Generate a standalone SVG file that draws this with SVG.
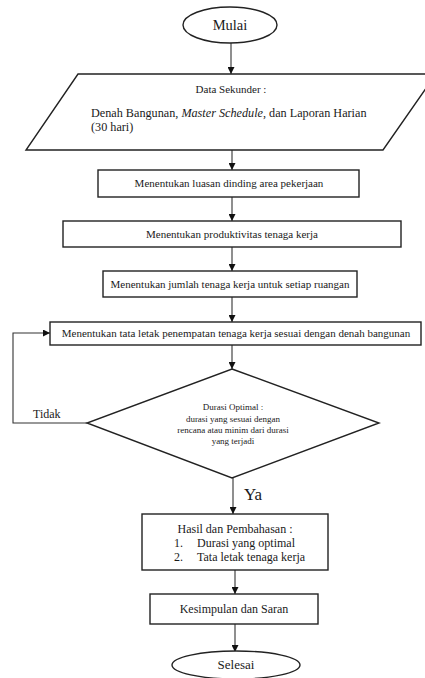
<svg xmlns="http://www.w3.org/2000/svg" width="425" height="678" viewBox="0 0 425 678">
<defs>
<style>
.s{fill:#fff;stroke:#222;stroke-width:1.4}
.c{fill:none;stroke:#333;stroke-width:1.1}
text{font-family:"Liberation Serif","Times New Roman",serif;fill:#1a1a1a}
.m{text-anchor:middle}
</style>
<marker id="a" viewBox="0 0 10 10" refX="10" refY="5" markerWidth="7" markerHeight="7" orient="auto" markerUnits="userSpaceOnUse"><path d="M0,0L10,5L0,10z" fill="#111"/></marker>
</defs>
<rect width="425" height="678" fill="#fff"/>
<g id="connectors">
<line class="c" x1="231" y1="43" x2="231" y2="74" marker-end="url(#a)"/>
<line class="c" x1="232" y1="150" x2="232" y2="170" marker-end="url(#a)"/>
<line class="c" x1="232" y1="197" x2="232" y2="221" marker-end="url(#a)"/>
<line class="c" x1="232" y1="247" x2="232" y2="271" marker-end="url(#a)"/>
<line class="c" x1="232" y1="297" x2="232" y2="322" marker-end="url(#a)"/>
<line class="c" x1="232" y1="345" x2="232" y2="369" marker-end="url(#a)"/>
<line class="c" x1="233" y1="478" x2="233" y2="514" marker-end="url(#a)"/>
<line class="c" x1="235" y1="570" x2="235" y2="594" marker-end="url(#a)"/>
<line class="c" x1="235" y1="624" x2="235" y2="652" marker-end="url(#a)"/>
<polyline class="c" points="87,423 13,423 13,333 50,333" marker-end="url(#a)"/>
<text x="33" y="418" font-size="12">Tidak</text>
<text x="244" y="500" font-size="17">Ya</text>
</g>
<g id="mulai">
<ellipse class="s" cx="230" cy="25" rx="47" ry="18"/>
<text class="m" x="230" y="30" font-size="14.5">Mulai</text>
</g>
<g id="data">
<polygon class="s" points="78,74 436,74 383,150 26,150"/>
<text class="m" x="231" y="93" font-size="11">Data Sekunder :</text>
<text x="91" y="117" font-size="12.2">Denah Bangunan, <tspan font-style="italic">Master Schedule</tspan>, dan Laporan Harian</text>
<text x="91" y="131" font-size="12.2">(30 hari)</text>
</g>
<g id="luasan">
<rect class="s" x="98" y="170" width="261" height="27"/>
<text class="m" x="229" y="187" font-size="11">Menentukan luasan dinding area pekerjaan</text>
</g>
<g id="produktivitas">
<rect class="s" x="63" y="221" width="338" height="26"/>
<text class="m" x="232" y="238" font-size="11">Menentukan produktivitas tenaga kerja</text>
</g>
<g id="jumlah">
<rect class="s" x="103" y="271" width="254" height="26"/>
<text class="m" x="230" y="288" font-size="11">Menentukan jumlah tenaga kerja untuk setiap ruangan</text>
</g>
<g id="tataletak">
<rect class="s" x="50" y="322" width="371" height="23"/>
<text class="m" x="236" y="337" font-size="11">Menentukan tata letak penempatan tenaga kerja sesuai dengan denah bangunan</text>
</g>
<g id="durasi">
<polygon class="s" points="232,369 379,423 232,478 87,423"/>
<text class="m" x="233" y="410" font-size="9">Durasi Optimal :</text>
<text class="m" x="233" y="422" font-size="9">durasi yang sesuai dengan</text>
<text class="m" x="233" y="433" font-size="9">rencana atau minim dari durasi</text>
<text class="m" x="233" y="444" font-size="9">yang terjadi</text>
</g>
<g id="hasil">
<rect class="s" x="142" y="514" width="186" height="56"/>
<text class="m" x="235" y="533" font-size="12">Hasil dan Pembahasan :</text>
<text x="174" y="547" font-size="12">1.</text>
<text x="197" y="547" font-size="12">Durasi yang optimal</text>
<text x="174" y="561" font-size="12">2.</text>
<text x="197" y="561" font-size="12">Tata letak tenaga kerja</text>
</g>
<g id="kesimpulan">
<rect class="s" x="150" y="594" width="168" height="30"/>
<text class="m" x="234" y="613" font-size="12">Kesimpulan dan Saran</text>
</g>
<g id="selesai">
<ellipse class="s" cx="236" cy="665" rx="64" ry="14"/>
<text class="m" x="236" y="669" font-size="13">Selesai</text>
</g>
</svg>
